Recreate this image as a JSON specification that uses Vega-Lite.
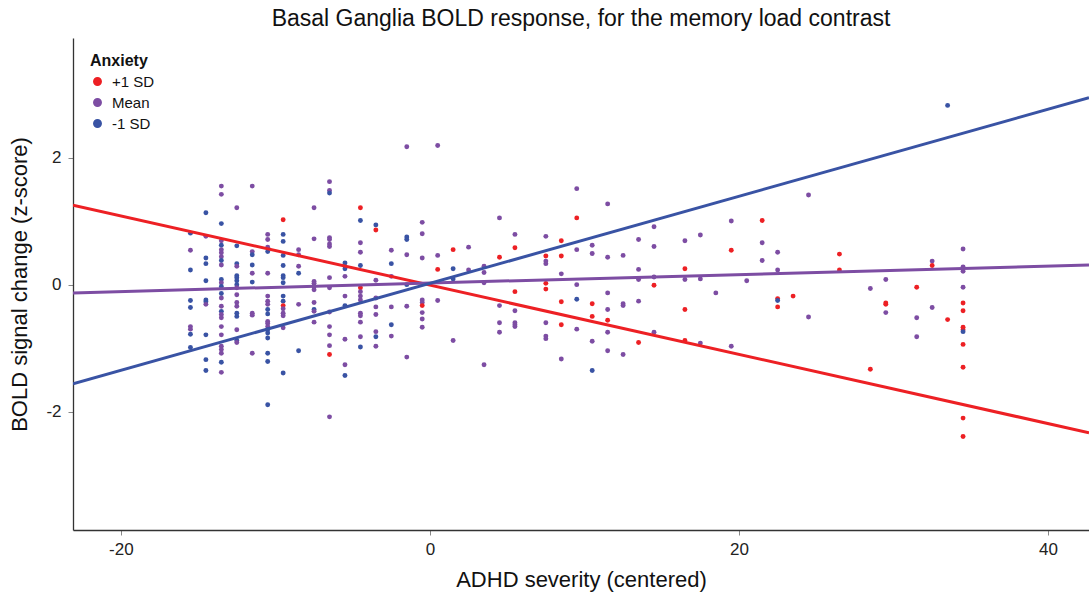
{
  "$schema": "https://vega.github.io/schema/vega-lite/v6.json",
  "width": 1016,
  "height": 492,
  "autosize": {"type": "none"},
  "padding": {"left": 73, "top": 38, "right": 0, "bottom": 66},
  "background": "white",
  "title": {"text": "Basal Ganglia BOLD response, for the memory load contrast", "fontSize": 23, "font": "Liberation Sans", "fontWeight": "normal", "color": "#111111", "anchor": "middle", "offset": 7},
  "config": {
    "view": {"stroke": null},
    "axis": {"grid": false, "domainColor": "#333333", "domainWidth": 1.3, "tickColor": "#888888", "tickSize": 5, "labelFont": "Liberation Sans", "labelFontSize": 17, "labelColor": "#222222", "titleFont": "Liberation Sans", "titleFontSize": 22, "titleFontWeight": "normal", "titleColor": "#111111"},
    "legend": {"titleFont": "Liberation Sans", "labelFont": "Liberation Sans"}
  },
  "datasets": {
    "pts": [
      {"x":-15.5,"y":0.81,"g":"-1 SD"},{"x":-15.5,"y":0.54,"g":"Mean"},{"x":-15.5,"y":0.23,"g":"-1 SD"},{"x":-15.5,"y":-0.25,"g":"-1 SD"},{"x":-15.5,"y":-0.36,"g":"-1 SD"},{"x":-15.5,"y":-0.66,"g":"Mean"},{"x":-15.5,"y":-0.70,"g":"Mean"},{"x":-15.5,"y":-0.78,"g":"-1 SD"},{"x":-15.5,"y":-0.99,"g":"-1 SD"},
      {"x":-14.5,"y":1.13,"g":"-1 SD"},{"x":-14.5,"y":0.76,"g":"Mean"},{"x":-14.5,"y":0.42,"g":"-1 SD"},{"x":-14.5,"y":0.33,"g":"-1 SD"},{"x":-14.5,"y":0.06,"g":"-1 SD"},{"x":-14.5,"y":-0.24,"g":"-1 SD"},{"x":-14.5,"y":-0.27,"g":"-1 SD"},{"x":-14.5,"y":-0.31,"g":"Mean"},{"x":-14.5,"y":-0.79,"g":"-1 SD"},{"x":-14.5,"y":-1.18,"g":"-1 SD"},{"x":-14.5,"y":-1.35,"g":"-1 SD"},
      {"x":-13.5,"y":1.55,"g":"Mean"},{"x":-13.5,"y":1.42,"g":"Mean"},{"x":-13.5,"y":0.96,"g":"-1 SD"},{"x":-13.5,"y":0.69,"g":"Mean"},{"x":-13.5,"y":0.62,"g":"-1 SD"},{"x":-13.5,"y":0.55,"g":"Mean"},{"x":-13.5,"y":0.50,"g":"Mean"},{"x":-13.5,"y":0.44,"g":"Mean"},{"x":-13.5,"y":0.38,"g":"-1 SD"},{"x":-13.5,"y":0.31,"g":"Mean"},{"x":-13.5,"y":0.08,"g":"-1 SD"},{"x":-13.5,"y":0.03,"g":"Mean"},{"x":-13.5,"y":-0.03,"g":"-1 SD"},{"x":-13.5,"y":-0.14,"g":"-1 SD"},{"x":-13.5,"y":-0.21,"g":"Mean"},{"x":-13.5,"y":-0.34,"g":"Mean"},{"x":-13.5,"y":-0.42,"g":"-1 SD"},{"x":-13.5,"y":-0.47,"g":"Mean"},{"x":-13.5,"y":-0.52,"g":"Mean"},{"x":-13.5,"y":-0.66,"g":"Mean"},{"x":-13.5,"y":-0.79,"g":"Mean"},{"x":-13.5,"y":-0.97,"g":"Mean"},{"x":-13.5,"y":-1.02,"g":"Mean"},{"x":-13.5,"y":-1.08,"g":"Mean"},{"x":-13.5,"y":-1.22,"g":"-1 SD"},{"x":-13.5,"y":-1.38,"g":"Mean"},
      {"x":-12.5,"y":1.21,"g":"Mean"},{"x":-12.5,"y":0.61,"g":"-1 SD"},{"x":-12.5,"y":0.33,"g":"-1 SD"},{"x":-12.5,"y":0.29,"g":"Mean"},{"x":-12.5,"y":0.14,"g":"-1 SD"},{"x":-12.5,"y":0.11,"g":"-1 SD"},{"x":-12.5,"y":0.06,"g":"-1 SD"},{"x":-12.5,"y":0.0,"g":"-1 SD"},{"x":-12.5,"y":-0.05,"g":"Mean"},{"x":-12.5,"y":-0.16,"g":"Mean"},{"x":-12.5,"y":-0.28,"g":"Mean"},{"x":-12.5,"y":-0.34,"g":"Mean"},{"x":-12.5,"y":-0.45,"g":"-1 SD"},{"x":-12.5,"y":-0.50,"g":"-1 SD"},{"x":-12.5,"y":-0.71,"g":"Mean"},{"x":-12.5,"y":-0.88,"g":"-1 SD"},{"x":-12.5,"y":-0.91,"g":"Mean"},
      {"x":-11.5,"y":1.55,"g":"Mean"},{"x":-11.5,"y":0.52,"g":"Mean"},{"x":-11.5,"y":0.47,"g":"-1 SD"},{"x":-11.5,"y":0.31,"g":"-1 SD"},{"x":-11.5,"y":0.18,"g":"Mean"},{"x":-11.5,"y":0.04,"g":"-1 SD"},{"x":-11.5,"y":-0.45,"g":"Mean"},{"x":-11.5,"y":-0.48,"g":"Mean"},{"x":-11.5,"y":-1.08,"g":"Mean"},
      {"x":-10.5,"y":0.79,"g":"Mean"},{"x":-10.5,"y":0.71,"g":"Mean"},{"x":-10.5,"y":0.59,"g":"Mean"},{"x":-10.5,"y":0.52,"g":"-1 SD"},{"x":-10.5,"y":0.18,"g":"Mean"},{"x":-10.5,"y":-0.18,"g":"Mean"},{"x":-10.5,"y":-0.26,"g":"Mean"},{"x":-10.5,"y":-0.31,"g":"Mean"},{"x":-10.5,"y":-0.39,"g":"-1 SD"},{"x":-10.5,"y":-0.46,"g":"-1 SD"},{"x":-10.5,"y":-0.58,"g":"Mean"},{"x":-10.5,"y":-0.61,"g":"Mean"},{"x":-10.5,"y":-0.66,"g":"Mean"},{"x":-10.5,"y":-0.71,"g":"-1 SD"},{"x":-10.5,"y":-0.76,"g":"-1 SD"},{"x":-10.5,"y":-0.84,"g":"-1 SD"},{"x":-10.5,"y":-1.08,"g":"-1 SD"},{"x":-10.5,"y":-1.21,"g":"-1 SD"},{"x":-10.5,"y":-1.89,"g":"-1 SD"},
      {"x":-9.5,"y":1.02,"g":"+1 SD"},{"x":-9.5,"y":0.79,"g":"-1 SD"},{"x":-9.5,"y":0.68,"g":"-1 SD"},{"x":-9.5,"y":0.46,"g":"-1 SD"},{"x":-9.5,"y":0.30,"g":"-1 SD"},{"x":-9.5,"y":0.14,"g":"-1 SD"},{"x":-9.5,"y":0.11,"g":"-1 SD"},{"x":-9.5,"y":0.03,"g":"-1 SD"},{"x":-9.5,"y":-0.18,"g":"-1 SD"},{"x":-9.5,"y":-0.26,"g":"-1 SD"},{"x":-9.5,"y":-0.33,"g":"+1 SD"},{"x":-9.5,"y":-0.38,"g":"Mean"},{"x":-9.5,"y":-0.45,"g":"Mean"},{"x":-9.5,"y":-0.49,"g":"Mean"},{"x":-9.5,"y":-0.68,"g":"Mean"},{"x":-9.5,"y":-1.39,"g":"-1 SD"},
      {"x":-8.5,"y":0.55,"g":"Mean"},{"x":-8.5,"y":0.47,"g":"Mean"},{"x":-8.5,"y":0.29,"g":"Mean"},{"x":-8.5,"y":0.18,"g":"-1 SD"},{"x":-8.5,"y":-0.31,"g":"Mean"},{"x":-8.5,"y":-1.04,"g":"-1 SD"},
      {"x":-7.5,"y":1.21,"g":"Mean"},{"x":-7.5,"y":0.72,"g":"Mean"},{"x":-7.5,"y":0.05,"g":"Mean"},{"x":-7.5,"y":0.02,"g":"Mean"},{"x":-7.5,"y":-0.03,"g":"Mean"},{"x":-7.5,"y":-0.08,"g":"Mean"},{"x":-7.5,"y":-0.28,"g":"Mean"},{"x":-7.5,"y":-0.39,"g":"-1 SD"},{"x":-7.5,"y":-0.42,"g":"Mean"},{"x":-7.5,"y":-0.59,"g":"Mean"},
      {"x":-6.5,"y":1.62,"g":"Mean"},{"x":-6.5,"y":1.48,"g":"Mean"},{"x":-6.5,"y":1.44,"g":"-1 SD"},{"x":-6.5,"y":0.74,"g":"Mean"},{"x":-6.5,"y":0.71,"g":"Mean"},{"x":-6.5,"y":0.64,"g":"Mean"},{"x":-6.5,"y":0.60,"g":"Mean"},{"x":-6.5,"y":0.11,"g":"Mean"},{"x":-6.5,"y":-0.05,"g":"Mean"},{"x":-6.5,"y":-0.43,"g":"Mean"},{"x":-6.5,"y":-0.66,"g":"Mean"},{"x":-6.5,"y":-0.79,"g":"Mean"},{"x":-6.5,"y":-0.96,"g":"Mean"},{"x":-6.5,"y":-1.10,"g":"+1 SD"},{"x":-6.5,"y":-2.08,"g":"Mean"},
      {"x":-5.5,"y":0.34,"g":"-1 SD"},{"x":-5.5,"y":0.25,"g":"-1 SD"},{"x":-5.5,"y":0.13,"g":"Mean"},{"x":-5.5,"y":-0.18,"g":"Mean"},{"x":-5.5,"y":-0.33,"g":"-1 SD"},{"x":-5.5,"y":-0.86,"g":"Mean"},{"x":-5.5,"y":-1.26,"g":"Mean"},{"x":-5.5,"y":-1.43,"g":"-1 SD"},
      {"x":-4.5,"y":1.21,"g":"+1 SD"},{"x":-4.5,"y":1.01,"g":"-1 SD"},{"x":-4.5,"y":0.66,"g":"Mean"},{"x":-4.5,"y":0.51,"g":"Mean"},{"x":-4.5,"y":0.30,"g":"-1 SD"},{"x":-4.5,"y":-0.05,"g":"+1 SD"},{"x":-4.5,"y":-0.11,"g":"Mean"},{"x":-4.5,"y":-0.18,"g":"Mean"},{"x":-4.5,"y":-0.24,"g":"Mean"},{"x":-4.5,"y":-0.45,"g":"Mean"},{"x":-4.5,"y":-0.49,"g":"Mean"},{"x":-4.5,"y":-0.59,"g":"Mean"},{"x":-4.5,"y":-0.82,"g":"Mean"},{"x":-4.5,"y":-0.98,"g":"-1 SD"},
      {"x":-3.5,"y":0.94,"g":"-1 SD"},{"x":-3.5,"y":0.86,"g":"+1 SD"},{"x":-3.5,"y":0.07,"g":"Mean"},{"x":-3.5,"y":-0.21,"g":"Mean"},{"x":-3.5,"y":-0.35,"g":"Mean"},{"x":-3.5,"y":-0.47,"g":"Mean"},{"x":-3.5,"y":-0.74,"g":"Mean"},{"x":-3.5,"y":-0.82,"g":"-1 SD"},{"x":-3.5,"y":-0.97,"g":"Mean"},
      {"x":-2.5,"y":0.54,"g":"Mean"},{"x":-2.5,"y":0.33,"g":"-1 SD"},{"x":-2.5,"y":0.13,"g":"Mean"},{"x":-2.5,"y":-0.35,"g":"Mean"},{"x":-2.5,"y":-0.63,"g":"-1 SD"},{"x":-2.5,"y":-0.81,"g":"Mean"},
      {"x":-1.5,"y":2.17,"g":"Mean"},{"x":-1.5,"y":0.75,"g":"-1 SD"},{"x":-1.5,"y":0.71,"g":"-1 SD"},{"x":-1.5,"y":0.47,"g":"Mean"},{"x":-1.5,"y":0.0,"g":"-1 SD"},{"x":-1.5,"y":-0.34,"g":"Mean"},{"x":-1.5,"y":-1.14,"g":"Mean"},
      {"x":-0.5,"y":0.98,"g":"Mean"},{"x":-0.5,"y":0.80,"g":"Mean"},{"x":-0.5,"y":0.42,"g":"Mean"},{"x":-0.5,"y":-0.24,"g":"Mean"},{"x":-0.5,"y":-0.28,"g":"Mean"},{"x":-0.5,"y":-0.33,"g":"+1 SD"},{"x":-0.5,"y":-0.44,"g":"Mean"},{"x":-0.5,"y":-0.54,"g":"Mean"},{"x":-0.5,"y":-0.67,"g":"Mean"},
      {"x":0.5,"y":2.19,"g":"Mean"},{"x":0.5,"y":0.46,"g":"Mean"},{"x":0.5,"y":0.24,"g":"+1 SD"},{"x":0.5,"y":-0.25,"g":"Mean"},
      {"x":1.5,"y":0.55,"g":"+1 SD"},{"x":1.5,"y":0.25,"g":"-1 SD"},{"x":1.5,"y":0.09,"g":"-1 SD"},{"x":1.5,"y":-0.88,"g":"Mean"},
      {"x":2.5,"y":0.59,"g":"Mean"},{"x":2.5,"y":0.23,"g":"Mean"},
      {"x":3.5,"y":0.29,"g":"Mean"},{"x":3.5,"y":0.19,"g":"Mean"},{"x":3.5,"y":0.03,"g":"Mean"},{"x":3.5,"y":-1.26,"g":"Mean"},
      {"x":4.5,"y":1.05,"g":"Mean"},{"x":4.5,"y":0.43,"g":"+1 SD"},{"x":4.5,"y":-0.33,"g":"Mean"},{"x":4.5,"y":-0.60,"g":"Mean"},{"x":4.5,"y":-0.75,"g":"Mean"},
      {"x":5.5,"y":0.79,"g":"Mean"},{"x":5.5,"y":0.58,"g":"+1 SD"},{"x":5.5,"y":-0.11,"g":"+1 SD"},{"x":5.5,"y":-0.41,"g":"Mean"},{"x":5.5,"y":-0.60,"g":"Mean"},{"x":5.5,"y":-0.63,"g":"Mean"},{"x":5.5,"y":-0.66,"g":"Mean"},
      {"x":7.5,"y":0.76,"g":"Mean"},{"x":7.5,"y":0.45,"g":"+1 SD"},{"x":7.5,"y":0.37,"g":"Mean"},{"x":7.5,"y":0.33,"g":"Mean"},{"x":7.5,"y":0.02,"g":"+1 SD"},{"x":7.5,"y":-0.07,"g":"+1 SD"},{"x":7.5,"y":-0.60,"g":"Mean"},{"x":7.5,"y":-0.81,"g":"Mean"},{"x":7.5,"y":-0.85,"g":"Mean"},
      {"x":8.5,"y":0.69,"g":"+1 SD"},{"x":8.5,"y":0.45,"g":"+1 SD"},{"x":8.5,"y":0.17,"g":"Mean"},{"x":8.5,"y":-0.27,"g":"+1 SD"},{"x":8.5,"y":-0.63,"g":"+1 SD"},{"x":8.5,"y":-1.17,"g":"Mean"},
      {"x":9.5,"y":1.51,"g":"Mean"},{"x":9.5,"y":1.05,"g":"+1 SD"},{"x":9.5,"y":0.55,"g":"Mean"},{"x":9.5,"y":0.0,"g":"Mean"},{"x":9.5,"y":-0.23,"g":"-1 SD"},{"x":9.5,"y":-0.70,"g":"Mean"},
      {"x":10.5,"y":0.62,"g":"Mean"},{"x":10.5,"y":0.49,"g":"Mean"},{"x":10.5,"y":-0.30,"g":"+1 SD"},{"x":10.5,"y":-0.50,"g":"+1 SD"},{"x":10.5,"y":-0.89,"g":"Mean"},{"x":10.5,"y":-1.35,"g":"-1 SD"},
      {"x":11.5,"y":1.27,"g":"Mean"},{"x":11.5,"y":0.43,"g":"Mean"},{"x":11.5,"y":-0.13,"g":"Mean"},{"x":11.5,"y":-0.39,"g":"Mean"},{"x":11.5,"y":-0.56,"g":"+1 SD"},{"x":11.5,"y":-0.75,"g":"Mean"},{"x":11.5,"y":-1.04,"g":"Mean"},
      {"x":12.5,"y":0.46,"g":"Mean"},{"x":12.5,"y":-0.30,"g":"Mean"},{"x":12.5,"y":-0.33,"g":"Mean"},{"x":12.5,"y":-1.10,"g":"Mean"},
      {"x":13.5,"y":0.71,"g":"Mean"},{"x":13.5,"y":0.24,"g":"Mean"},{"x":13.5,"y":0.08,"g":"Mean"},{"x":13.5,"y":-0.26,"g":"Mean"},{"x":13.5,"y":-0.91,"g":"+1 SD"},
      {"x":14.5,"y":0.91,"g":"Mean"},{"x":14.5,"y":0.60,"g":"Mean"},{"x":14.5,"y":0.12,"g":"Mean"},{"x":14.5,"y":-0.01,"g":"+1 SD"},{"x":14.5,"y":-0.75,"g":"Mean"},
      {"x":16.5,"y":0.69,"g":"Mean"},{"x":16.5,"y":0.25,"g":"+1 SD"},{"x":16.5,"y":0.08,"g":"Mean"},{"x":16.5,"y":-0.39,"g":"+1 SD"},{"x":16.5,"y":-0.88,"g":"+1 SD"},
      {"x":17.5,"y":0.78,"g":"Mean"},{"x":17.5,"y":0.09,"g":"Mean"},{"x":17.5,"y":-0.92,"g":"Mean"},
      {"x":18.5,"y":-0.13,"g":"Mean"},
      {"x":19.5,"y":1.00,"g":"Mean"},{"x":19.5,"y":0.54,"g":"+1 SD"},{"x":19.5,"y":-0.97,"g":"Mean"},
      {"x":20.5,"y":0.06,"g":"Mean"},
      {"x":21.5,"y":1.01,"g":"+1 SD"},{"x":21.5,"y":0.66,"g":"Mean"},{"x":21.5,"y":0.38,"g":"Mean"},
      {"x":22.5,"y":0.51,"g":"Mean"},{"x":22.5,"y":0.23,"g":"Mean"},{"x":22.5,"y":-0.22,"g":"+1 SD"},{"x":22.5,"y":-0.25,"g":"-1 SD"},{"x":22.5,"y":-0.35,"g":"+1 SD"},
      {"x":23.5,"y":-0.18,"g":"+1 SD"},
      {"x":24.5,"y":1.41,"g":"Mean"},{"x":24.5,"y":-0.51,"g":"Mean"},
      {"x":26.5,"y":0.48,"g":"+1 SD"},{"x":26.5,"y":0.23,"g":"+1 SD"},
      {"x":28.5,"y":-0.06,"g":"Mean"},{"x":28.5,"y":-1.33,"g":"+1 SD"},
      {"x":29.5,"y":0.08,"g":"Mean"},{"x":29.5,"y":-0.29,"g":"+1 SD"},{"x":29.5,"y":-0.31,"g":"+1 SD"},{"x":29.5,"y":-0.44,"g":"Mean"},
      {"x":31.5,"y":-0.04,"g":"+1 SD"},{"x":31.5,"y":-0.52,"g":"Mean"},{"x":31.5,"y":-0.82,"g":"Mean"},
      {"x":32.5,"y":0.37,"g":"Mean"},{"x":32.5,"y":0.30,"g":"+1 SD"},{"x":32.5,"y":-0.36,"g":"Mean"},
      {"x":33.5,"y":2.82,"g":"-1 SD"},{"x":33.5,"y":-0.55,"g":"+1 SD"},
      {"x":34.5,"y":0.56,"g":"Mean"},{"x":34.5,"y":0.28,"g":"Mean"},{"x":34.5,"y":0.21,"g":"Mean"},{"x":34.5,"y":-0.04,"g":"Mean"},{"x":34.5,"y":-0.29,"g":"+1 SD"},{"x":34.5,"y":-0.41,"g":"+1 SD"},{"x":34.5,"y":-0.67,"g":"+1 SD"},{"x":34.5,"y":-0.71,"g":"+1 SD"},{"x":34.5,"y":-0.74,"g":"-1 SD"},{"x":34.5,"y":-0.94,"g":"+1 SD"},{"x":34.5,"y":-1.30,"g":"+1 SD"},{"x":34.5,"y":-2.10,"g":"+1 SD"},{"x":34.5,"y":-2.39,"g":"+1 SD"}
    ],
    "fits": [
      {"x":-23.1,"y":1.25,"g":"+1 SD"},{"x":42.65,"y":-2.33,"g":"+1 SD"},
      {"x":-23.1,"y":-0.13,"g":"Mean"},{"x":42.65,"y":0.31,"g":"Mean"},
      {"x":-23.1,"y":-1.56,"g":"-1 SD"},{"x":42.65,"y":2.94,"g":"-1 SD"}
    ]
  },
  "layer": [
    {
      "data": {"name": "pts"},
      "mark": {"type": "point", "filled": true, "size": 24, "opacity": 1},
      "encoding": {
        "x": {"field": "x", "type": "quantitative", "scale": {"domain": [-23.1, 42.65], "nice": false, "zero": false}, "axis": {"values": [-20, 0, 20, 40], "labelExpr": "datum.value + ''", "title": "ADHD severity (centered)", "labelPadding": 6, "titlePadding": 12}},
        "y": {"field": "y", "type": "quantitative", "scale": {"domain": [-3.86, 3.88], "nice": false, "zero": false}, "axis": {"values": [-2, 0, 2], "labelExpr": "datum.value + ''", "title": "BOLD signal change (z-score)", "labelPadding": 7, "titlePadding": 14}},
        "color": {"field": "g", "type": "nominal", "scale": {"domain": ["+1 SD", "Mean", "-1 SD"], "range": ["#ED2024", "#7D4DA3", "#3953A4"]}, "legend": {"title": "Anxiety", "orient": "none", "legendX": 17, "legendY": 15, "titleFontSize": 16, "titleFontWeight": "bold", "titleColor": "#111111", "labelFontSize": 15, "labelColor": "#111111", "symbolType": "circle", "symbolSize": 55, "rowPadding": 5, "titlePadding": 5, "labelOffset": 7}}
      }
    },
    {
      "data": {"name": "fits"},
      "mark": {"type": "line", "strokeWidth": 3, "clip": true},
      "encoding": {
        "x": {"field": "x", "type": "quantitative"},
        "y": {"field": "y", "type": "quantitative"},
        "color": {"field": "g", "type": "nominal", "legend": null},
        "detail": {"field": "g"}
      }
    }
  ]
}
